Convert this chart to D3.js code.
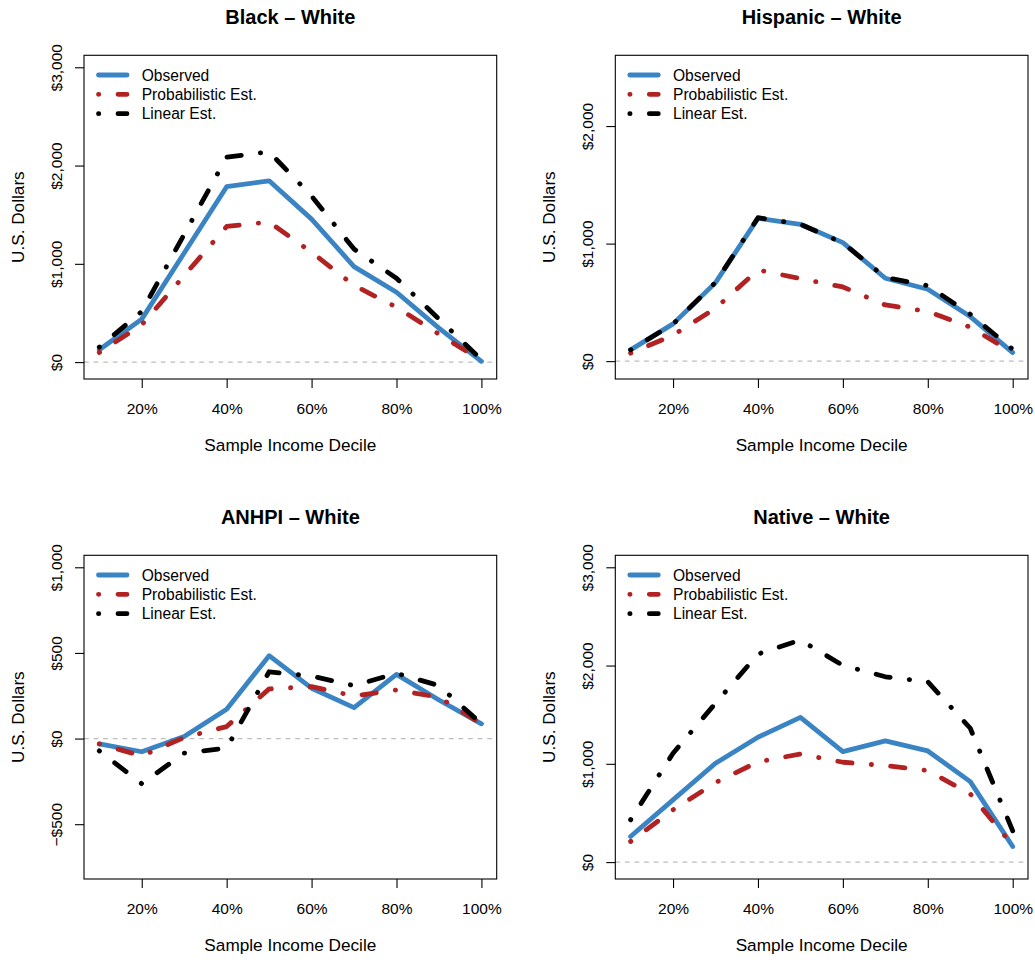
<!DOCTYPE html>
<html>
<head>
<meta charset="utf-8">
<script src="https://cdn.jsdelivr.net/npm/d3@7"></script>
<style>
  body { margin: 0; background: #fff; }
  svg  { display: block; }
</style>
</head>
<body>
<div id="chart"></div>
<script>
// ── Data ──────────────────────────────────────────────────────────────────────
var deciles = [0.1, 0.2, 0.3, 0.4, 0.5, 0.6, 0.7, 0.8, 0.9, 1.0];
var xTicks  = [0.2, 0.4, 0.6, 0.8, 1.0];

var panelTitles = ['Black \u2013 White', 'Hispanic \u2013 White', 'ANHPI \u2013 White', 'Native \u2013 White'];
var seriesNames = ['Observed', 'Probabilistic Est.', 'Linear Est.'];

var blackObs  = [125, 437, 1110, 1785, 1845, 1455, 972, 711, 345, 8];
var blackProb = [98, 379, 880, 1380, 1425, 1118, 780, 559, 284, 17];
var blackLin  = [152, 515, 1300, 2085, 2140, 1690, 1150, 853, 437, 25];

var hispObs   = [96, 317, 668, 1215, 1164, 1008, 705, 612, 379, 73];
var hispProb  = [68, 221, 450, 776, 702, 631, 478, 422, 289, 73];
var hispLin   = [96, 315, 670, 1220, 1165, 1005, 712, 642, 399, 100];

var anhpiObs  = [-31, -77, 12, 171, 484, 294, 181, 375, 225, 86];
var anhpiProb = [-31, -101, 6, 70, 290, 303, 249, 284, 241, 86];
var anhpiLin  = [-72, -264, -85, -56, 390, 365, 309, 381, 309, 86];

var nativeObs  = [260, 633, 1006, 1270, 1473, 1124, 1233, 1131, 819, 159];
var nativeProb = [210, 532, 809, 1020, 1100, 1016, 982, 931, 694, 169];
var nativeLin  = [430, 1108, 1616, 2117, 2259, 2002, 1886, 1835, 1362, 318];

var blackTicks  = [0, 1000, 2000, 3000];
var hispTicks   = [0, 1000, 2000];
var anhpiTicks  = [-500, 0, 500, 1000];
var nativeTicks = [0, 1000, 2000, 3000];

var yLimits = [[-50, 3000], [-50, 2500], [-750, 1000], [-50, 3000]];

(function() {

  var W = 1035, H = 960;
  var FONT = '"Liberation Sans", Arial, Helvetica, sans-serif';

  var BOXES = [
    { x: 84,    y: 55.3 },
    { x: 615.3, y: 55.3 },
    { x: 84,    y: 555.3 },
    { x: 615.3, y: 555.3 }
  ];
  var BW = 412.7, BH = 323.7;

  var STYLES = [
    { color: '#3A84C3', dash: null },
    { color: '#B22222', dash: '0.3,19.2,14.4,19.2' },
    { color: '#000000', dash: '0.3,19.2,14.4,19.2' }
  ];
  var LW = 4.8;

  var panels = [
    { series: [blackObs,  blackProb,  blackLin],  ticks: blackTicks },
    { series: [hispObs,   hispProb,   hispLin],   ticks: hispTicks },
    { series: [anhpiObs,  anhpiProb,  anhpiLin],  ticks: anhpiTicks },
    { series: [nativeObs, nativeProb, nativeLin], ticks: nativeTicks }
  ];

  var svg = d3.select('#chart').append('svg')
    .attr('width', W).attr('height', H)
    .style('background', '#fff');

  var defs = svg.append('defs');

  // R-style 4% expansion
  function expand(lim) {
    var d = (lim[1] - lim[0]) * 0.04;
    return [lim[0] - d, lim[1] + d];
  }

  function dollar(v) {
    var s = '$' + d3.format(',')(Math.abs(v));
    return v < 0 ? '\u2212' + s : s;
  }

  panels.forEach(function(p, i) {
    var b = BOXES[i];
    var g = svg.append('g').attr('transform', 'translate(' + b.x + ',' + b.y + ')');

    var x = d3.scaleLinear().domain(expand([0.1, 1.0])).range([0, BW]);
    var y = d3.scaleLinear().domain(expand(yLimits[i])).range([BH, 0]);

    defs.append('clipPath').attr('id', 'clip' + i)
      .append('rect').attr('width', BW).attr('height', BH);

    var plot = g.append('g').attr('clip-path', 'url(#clip' + i + ')');

    // zero reference line
    plot.append('line')
      .attr('x1', 0).attr('x2', BW)
      .attr('y1', y(0)).attr('y2', y(0))
      .attr('stroke', '#BEBEBE').attr('stroke-width', 1.2)
      .attr('stroke-dasharray', '4.8,4.8');

    var line = d3.line()
      .x(function(d, k) { return x(deciles[k]); })
      .y(function(d) { return y(d); });

    p.series.forEach(function(vals, s) {
      var st = STYLES[s];
      plot.append('path')
        .attr('d', line(vals))
        .attr('fill', 'none')
        .attr('stroke', st.color)
        .attr('stroke-width', LW)
        .attr('stroke-linecap', 'round')
        .attr('stroke-linejoin', 'round')
        .attr('stroke-dasharray', st.dash);
    });

    // box
    g.append('rect')
      .attr('width', BW).attr('height', BH)
      .attr('fill', 'none').attr('stroke', '#000').attr('stroke-width', 1.1);

    // x axis
    var xAxis = d3.axisBottom(x).tickValues(xTicks).tickSize(9).tickPadding(0)
      .tickFormat(function(d) { return Math.round(d * 100) + '%'; });
    var gx = g.append('g').attr('transform', 'translate(0,' + BH + ')').call(xAxis);
    gx.select('.domain').remove();
    gx.selectAll('line').attr('stroke', '#000').attr('stroke-width', 1.1);
    gx.selectAll('text')
      .attr('y', 35).attr('dy', null)
      .attr('fill', '#000').attr('font-family', FONT).attr('font-size', '15.5px');

    // y axis
    var yAxis = d3.axisLeft(y).tickValues(p.ticks).tickSize(9).tickFormat(dollar);
    var gy = g.append('g').call(yAxis);
    gy.select('.domain').remove();
    gy.selectAll('line').attr('stroke', '#000').attr('stroke-width', 1.1);
    gy.selectAll('text')
      .attr('x', null).attr('dy', null)
      .attr('transform', 'translate(-22,0) rotate(-90)')
      .attr('text-anchor', 'middle')
      .attr('fill', '#000').attr('font-family', FONT).attr('font-size', '15.5px');

    // titles
    g.append('text')
      .attr('x', BW / 2).attr('y', -31)
      .attr('text-anchor', 'middle')
      .attr('font-family', FONT).attr('font-size', '20px').attr('font-weight', 'bold')
      .text(panelTitles[i]);

    g.append('text')
      .attr('x', BW / 2).attr('y', BH + 72)
      .attr('text-anchor', 'middle')
      .attr('font-family', FONT).attr('font-size', '17.2px')
      .text('Sample Income Decile');

    g.append('text')
      .attr('transform', 'translate(-60,' + (BH / 2) + ') rotate(-90)')
      .attr('text-anchor', 'middle')
      .attr('font-family', FONT).attr('font-size', '17.2px')
      .text('U.S. Dollars');

    // legend
    var rowY = [19.7, 39, 58.4];
    seriesNames.forEach(function(name, s) {
      var st = STYLES[s];
      g.append('line')
        .attr('x1', 14.5).attr('x2', 43)
        .attr('y1', rowY[s]).attr('y2', rowY[s])
        .attr('stroke', st.color).attr('stroke-width', LW)
        .attr('stroke-linecap', 'round')
        .attr('stroke-dasharray', st.dash);
      g.append('text')
        .attr('x', 57.7).attr('y', rowY[s] + 5.6)
        .attr('font-family', FONT).attr('font-size', '15.6px')
        .text(name);
    });
  });

})();
</script>
</body>
</html>
